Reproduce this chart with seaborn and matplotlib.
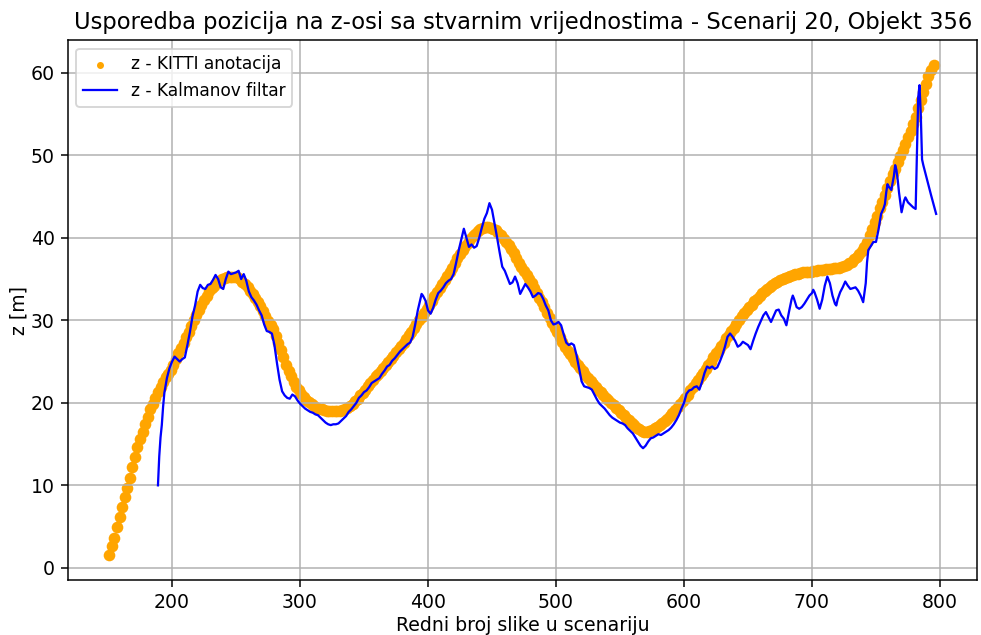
#!/usr/bin/env python3
"""Usporedba z-pozicije: KITTI anotacija vs. Kalmanov filtar (scenarij 20, objekt 356)."""

import matplotlib

matplotlib.use("Agg")
import matplotlib.pyplot as plt
import numpy as np
import seaborn as sns

# KITTI anotacija, z [m], svaka druga slika od 151 nadalje
KITTI_START = 151
KITTI_STEP = 2
KITTI_Z = [
    1.5, 2.6, 3.6, 4.9, 6.2, 7.4, 8.6, 9.7, 10.9, 12.2,
    13.4, 14.6, 15.6, 16.5, 17.4, 18.3, 19.2, 19.9, 20.6, 21.3,
    21.9, 22.5, 23.1, 23.5, 24.0, 24.6, 25.3, 26.0, 26.6, 27.3,
    28.0, 28.6, 29.3, 30.0, 30.6, 31.3, 31.9, 32.5, 33.0, 33.5,
    33.9, 34.2, 34.6, 34.8, 35.0, 35.1, 35.2, 35.3, 35.3, 35.3,
    35.2, 35.0, 34.7, 34.4, 34.0, 33.6, 33.2, 32.7, 32.2, 31.7,
    31.1, 30.5, 29.9, 29.4, 28.9, 28.1, 27.3, 26.4, 25.5, 24.6,
    23.9, 23.2, 22.5, 21.9, 21.5, 21.1, 20.7, 20.4, 20.1, 19.8,
    19.6, 19.4, 19.3, 19.2, 19.1, 19.0, 19.0, 19.0, 19.0, 19.0,
    19.0, 19.1, 19.3, 19.4, 19.6, 19.9, 20.2, 20.5, 20.9, 21.2,
    21.6, 22.0, 22.4, 22.8, 23.2, 23.5, 23.9, 24.2, 24.6, 24.9,
    25.3, 25.7, 26.1, 26.5, 26.9, 27.3, 27.7, 28.2, 28.6, 29.1,
    29.5, 30.0, 30.4, 30.9, 31.4, 31.9, 32.4, 32.9, 33.4, 33.9,
    34.4, 34.9, 35.4, 35.9, 36.4, 36.9, 37.5, 38.0, 38.5, 39.0,
    39.4, 39.8, 40.2, 40.5, 40.8, 41.1, 41.2, 41.3, 41.3, 41.2,
    41.1, 40.9, 40.6, 40.3, 39.9, 39.5, 39.1, 38.6, 38.1, 37.6,
    37.0, 36.5, 36.0, 35.5, 35.0, 34.5, 33.9, 33.3, 32.7, 32.2,
    31.6, 30.9, 30.3, 29.7, 29.1, 28.6, 28.0, 27.4, 26.8, 26.3,
    25.9, 25.4, 25.0, 24.6, 24.2, 23.8, 23.4, 23.0, 22.6, 22.3,
    21.9, 21.6, 21.3, 21.0, 20.6, 20.3, 20.0, 19.7, 19.4, 19.1,
    18.8, 18.5, 18.2, 17.9, 17.6, 17.3, 17.0, 16.8, 16.6, 16.5,
    16.5, 16.6, 16.7, 16.9, 17.1, 17.3, 17.5, 17.8, 18.1, 18.4,
    18.8, 19.1, 19.5, 19.8, 20.2, 20.6, 21.0, 21.5, 21.9, 22.4,
    22.8, 23.2, 23.6, 24.1, 24.6, 25.0, 25.5, 26.0, 26.4, 26.9,
    27.3, 27.8, 28.2, 28.7, 29.1, 29.6, 30.0, 30.5, 30.9, 31.2,
    31.6, 31.9, 32.3, 32.6, 33.0, 33.3, 33.5, 33.8, 34.0, 34.3,
    34.5, 34.7, 34.9, 35.0, 35.1, 35.3, 35.4, 35.5, 35.6, 35.6,
    35.7, 35.8, 35.8, 35.9, 35.9, 36.0, 36.0, 36.1, 36.1, 36.1,
    36.2, 36.2, 36.2, 36.3, 36.3, 36.4, 36.5, 36.6, 36.7, 36.9,
    37.1, 37.4, 37.7, 38.0, 38.4, 38.9, 39.5, 40.3, 41.1, 41.9,
    42.7, 43.6, 44.4, 45.2, 46.0, 46.9, 47.7, 48.4, 49.2, 49.9,
    50.7, 51.4, 52.2, 53.0, 53.8, 54.7, 55.7, 56.7, 57.7, 58.7,
    59.6, 60.4, 61.0,
]

# Kalmanov filtar: redni broj slike i procjena z [m]
KF_FRAME = [
    189, 190, 191, 192, 193, 194, 196, 198, 200, 202,
    204, 206, 208, 210, 212, 214, 216, 218, 220, 222,
    224, 226, 228, 230, 232, 234, 236, 238, 240, 242,
    244, 246, 248, 250, 252, 254, 256, 258, 260, 262,
    264, 266, 268, 270, 272, 274, 276, 278, 280, 282,
    284, 286, 288, 290, 292, 294, 296, 298, 300, 302,
    304, 306, 308, 310, 312, 314, 316, 318, 320, 322,
    324, 326, 328, 330, 332, 334, 336, 338, 340, 342,
    344, 346, 348, 350, 352, 354, 356, 358, 360, 362,
    364, 366, 368, 370, 372, 374, 376, 378, 380, 382,
    384, 386, 388, 390, 392, 394, 395, 396, 398, 400,
    402, 404, 406, 408, 410, 412, 414, 416, 418, 420,
    422, 424, 426, 428, 430, 432, 434, 436, 438, 440,
    442, 444, 446, 448, 450, 452, 454, 456, 458, 460,
    462, 464, 466, 468, 470, 472, 474, 476, 478, 480,
    482, 484, 486, 488, 490, 492, 494, 496, 498, 500,
    502, 504, 506, 508, 510, 512, 514, 516, 518, 520,
    522, 524, 526, 528, 530, 532, 534, 536, 538, 540,
    542, 544, 546, 548, 550, 552, 554, 556, 558, 560,
    562, 564, 566, 568, 570, 572, 574, 576, 578, 580,
    582, 584, 586, 588, 590, 592, 594, 596, 598, 600,
    602, 604, 606, 608, 610, 612, 614, 616, 618, 620,
    622, 624, 626, 628, 630, 632, 634, 636, 638, 640,
    642, 644, 646, 648, 650, 652, 654, 656, 658, 660,
    662, 664, 666, 668, 670, 672, 674, 676, 678, 680,
    682, 684, 685, 686, 688, 690, 692, 694, 696, 698,
    700, 701, 702, 704, 706, 708, 710, 712, 714, 716,
    718, 719, 720, 722, 724, 726, 728, 730, 732, 734,
    736, 738, 740, 742, 743, 744, 746, 748, 750, 752,
    754, 756, 757, 758, 759, 760, 762, 764, 765, 766,
    767, 768, 770, 772, 773, 775, 777, 779, 781, 782,
    783, 784, 785, 786, 787, 790, 793, 797,
]
KF_Z = [
    10.0, 13.5, 15.8, 17.3, 19.5, 21.2, 23.0, 24.2, 25.0, 25.6,
    25.3, 25.0, 25.3, 25.5, 27.0, 28.6, 30.5, 31.8, 33.5, 34.3,
    33.9, 33.8, 34.3, 34.4, 34.9, 35.5, 35.0, 34.0, 33.8, 35.0,
    35.9, 35.6, 35.7, 35.8, 36.0, 35.0, 35.6, 34.8, 33.5, 32.8,
    32.4, 31.9, 31.2, 30.6, 29.5, 28.7, 28.6, 28.4, 27.0, 24.8,
    22.8, 21.4, 20.9, 20.6, 20.5, 21.0, 20.8, 20.3, 19.9, 19.6,
    19.3, 19.1, 18.9, 18.8, 18.6, 18.5, 18.2, 17.9, 17.6, 17.4,
    17.3, 17.4, 17.4, 17.5, 17.8, 18.1, 18.4, 18.9, 19.2, 19.6,
    20.0, 20.6, 20.9, 21.3, 21.5, 21.9, 22.4, 22.6, 22.8, 23.0,
    23.5, 23.9, 24.4, 24.6, 25.1, 25.4, 25.8, 26.2, 26.5, 26.8,
    27.1, 27.3, 28.0, 29.5, 31.2, 32.5, 33.2, 33.0, 32.4, 31.2,
    30.8, 31.5, 32.5, 33.3, 33.6, 34.0, 34.5, 34.8, 35.0, 35.6,
    37.0, 38.5, 39.8, 41.1, 40.0, 38.9, 39.2, 38.8, 39.0, 40.0,
    41.2, 42.3, 43.0, 44.2, 43.4, 41.7, 40.0, 38.2, 36.5, 36.0,
    35.2, 34.4, 34.6, 35.3, 34.5, 33.2, 33.8, 34.4, 34.0, 33.5,
    32.8, 33.0, 33.3, 33.2, 32.6, 31.8, 31.2, 30.0, 29.5, 29.6,
    29.8, 29.4, 28.3, 27.3, 27.0, 27.2, 27.0, 25.8, 24.2, 22.6,
    22.0, 21.9, 21.8, 21.6, 21.0, 20.4, 19.9, 19.6, 19.3, 18.9,
    18.5, 18.2, 18.0, 17.8, 17.6, 17.5, 17.3, 16.9, 16.6, 16.3,
    15.8, 15.3, 14.8, 14.5, 14.8, 15.3, 15.7, 15.8, 16.0, 16.2,
    16.1, 16.3, 16.5, 16.7, 17.0, 17.4, 17.9, 18.5, 19.3, 20.0,
    21.1, 21.5, 21.6, 21.9, 22.0, 21.6, 22.5, 23.6, 24.4, 24.2,
    24.4, 24.1, 24.3, 25.0, 25.8, 26.8, 28.0, 28.4, 28.0, 27.5,
    26.8, 27.0, 27.4, 27.2, 27.0, 26.5, 27.5, 28.4, 29.2, 29.9,
    30.6, 31.0, 30.4, 29.8, 30.5, 31.2, 31.3, 30.6, 30.2, 29.4,
    31.0, 32.5, 33.0, 32.6, 31.6, 31.4, 31.6, 32.0, 32.5, 33.0,
    33.3, 33.7, 33.4, 32.5, 31.4, 32.5, 34.2, 35.3, 34.5, 33.0,
    32.0, 31.8, 32.5, 33.4, 34.0, 34.7, 34.2, 33.8, 33.9, 34.0,
    33.6, 33.0, 32.2, 34.5, 37.0, 38.5, 39.0, 39.5, 39.5, 41.0,
    42.9, 43.6, 44.1, 45.5, 46.5, 46.2, 45.8, 47.5, 48.8, 48.2,
    47.0, 45.5, 43.1, 44.5, 44.9, 44.3, 44.0, 43.7, 43.5, 50.0,
    57.0, 58.5, 55.0, 49.5, 48.8, 47.0, 45.2, 42.9,
]

TITLE = "Usporedba pozicija na z-osi sa stvarnim vrijednostima - Scenarij 20, Objekt 356"
DPI = 136


def main() -> None:
    kitti_frame = np.arange(KITTI_START, KITTI_START + KITTI_STEP * len(KITTI_Z), KITTI_STEP)

    fig = plt.figure(figsize=(981 / DPI, 635 / DPI), dpi=DPI)
    ax = fig.add_axes([0.0693, 0.0866, 0.9271, 0.8504])

    sns.scatterplot(
        x=kitti_frame,
        y=KITTI_Z,
        color="orange",
        s=38,
        linewidth=0,
        label="z - KITTI anotacija",
        ax=ax,
    )
    sns.lineplot(
        x=KF_FRAME,
        y=KF_Z,
        color="blue",
        linewidth=1.2,
        label="z - Kalmanov filtar",
        ax=ax,
    )

    ax.set_title(TITLE)
    ax.set_xlabel("Redni broj slike u scenariju", labelpad=2)
    ax.set_ylabel("z [m]", labelpad=1)
    ax.set_xticks([200, 300, 400, 500, 600, 700, 800])
    ax.set_yticks([0, 10, 20, 30, 40, 50, 60])
    ax.grid(True)
    ax.legend(loc="upper left", markerscale=0.6, fontsize=9)

    fig.savefig("out.png", dpi=DPI)
    plt.close(fig)


if __name__ == "__main__":
    main()
